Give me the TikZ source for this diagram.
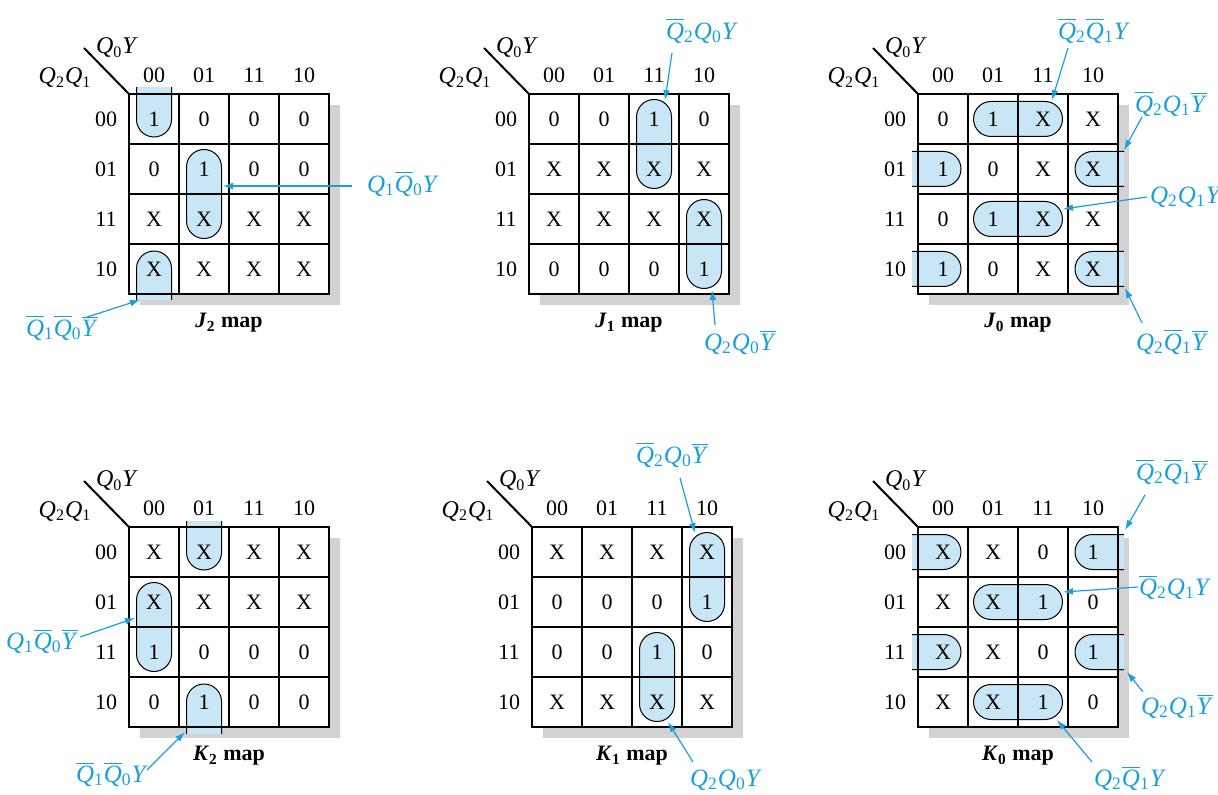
\documentclass[tikz,border=0pt]{standalone}
\usepackage{fontspec}
\setmainfont{Liberation Serif}
\usetikzlibrary{arrows.meta}
\definecolor{termblue}{RGB}{24,160,222}
\definecolor{loopblue}{RGB}{200,230,246}
\definecolor{shadowgray}{RGB}{210,210,210}
\def\qq#1{\textit{Q}\textsubscript{#1}}
\def\qb#1{$\overline{\mbox{\textit{Q}}}$\textsubscript{#1}}
\def\yy{\textit{Y}}
\def\yb{$\overline{\mbox{\textit{Y}}}$}
\tikzset{
  cell/.style={inner sep=1pt, font=\fontsize{11}{13}\selectfont},
  varname/.style={inner sep=1pt, font=\fontsize{12}{14}\selectfont},
  maptitle/.style={inner sep=1pt, font=\fontsize{11}{13}\selectfont\bfseries},
  term/.style={inner sep=1pt, text=termblue, font=\fontsize{12.5}{14}\selectfont},
  cellline/.style={line width=0.55pt},
  mapline/.style={line width=1.4pt},
  slashline/.style={line width=1pt},
  loop/.style={draw=black, line width=0.5pt, fill=loopblue, rounded corners=8.75pt},
  pointer/.style={draw=termblue, line width=0.6pt, -{Latex[length=5pt,width=3.4pt]}}
}
% loops, in coordinates of one map (top left corner at 0,0)
\def\vloop#1#2{\filldraw[loop] ({50*#1+7.5},{50*#2+5.5}) rectangle ({50*#1+42.5},{50*#2+94.5});}
\def\hloop#1#2{\filldraw[loop] ({50*#1+5.5},{50*#2+7.5}) rectangle ({50*#1+94.5},{50*#2+42.5});}
\def\wrapT#1{\begin{scope}\clip ({50*#1},-6) rectangle ({50*#1+50},50);
  \filldraw[loop] ({50*#1+7.5},-60) rectangle ({50*#1+42.5},43);\end{scope}}
\def\wrapB#1{\begin{scope}\clip ({50*#1},150) rectangle ({50*#1+50},206);
  \filldraw[loop] ({50*#1+7.5},157) rectangle ({50*#1+42.5},260);\end{scope}}
\def\wrapL#1{\begin{scope}\clip (-6,{50*#1}) rectangle (50,{50*#1+50});
  \filldraw[loop] (-60,{50*#1+7.5}) rectangle (43,{50*#1+42.5});\end{scope}}
\def\wrapR#1{\begin{scope}\clip (150,{50*#1}) rectangle (206,{50*#1+50});
  \filldraw[loop] (157,{50*#1+7.5}) rectangle (260,{50*#1+42.5});\end{scope}}
% one map: (corner) name entries loops title
\def\kmap(#1,#2)#3#4#5#6{%
  \begin{scope}[shift={(#1,#2)}]
    \fill[shadowgray] (11,11) rectangle (211,211);
    \fill[white] (0,0) rectangle (200,200);
    #5
    \foreach \t in {50,100,150}{
      \draw[cellline] (\t,0) -- (\t,200);
      \draw[cellline] (0,\t) -- (200,\t);
    }
    \draw[mapline] (0,0) rectangle (200,200);
    \coordinate (#3-corner) at (0,0);
    \coordinate (#3-end) at (-45,-46);
    \draw[slashline] (#3-end) -- (#3-corner);
    \node[varname] (#3-colvar) at (-12,-46) {\qq0\yy};
    \node[varname] (#3-rowvar) at (-64,-16) {\qq2\qq1};
    \foreach \h [count=\i from 0] in {00,01,11,10}{
      \node[cell] (#3-c\i) at ({50*\i+25},-19) {\h};
      \node[cell] (#3-r\i) at (-23,{50*\i+25}) {\h};
    }
    \foreach \v [count=\k from 0] in {#4}{
      \pgfmathtruncatemacro\ci{mod(\k,4)}
      \pgfmathtruncatemacro\rj{\k/4}
      \node[cell] (#3-\k) at ({50*\ci+25},{50*\rj+25}) {\v};
    }
    \node[maptitle] (#3-title) at (100,229) {#6};
  \end{scope}}
% term label with its pointer: (name)(label)(start)(tip){text}
\def\term(#1)(#2)(#3)(#4)#5{%
  \node[term] (#1) at (#2) {#5};
  \coordinate (#1-s) at (#3);
  \coordinate (#1-e) at (#4);
  \draw[pointer] (#1-s) -- (#1-e);}

\begin{document}
\begin{tikzpicture}[x=0.5pt, y=-0.5pt]
  \useasboundingbox (0,0) rectangle (1218,795);

  %%%%% J maps %%%%%
  \kmap(129,94){jtwo}{1,0,0,0, 0,1,0,0, X,X,X,X, X,X,X,X}
    {\vloop{1}{1} \wrapT{0} \wrapB{0}}
    {\textit{J}\textsubscript{2} map}
  \kmap(529,94){jone}{0,0,1,0, X,X,X,X, X,X,X,X, 0,0,0,1}
    {\vloop{2}{0} \vloop{3}{2}}
    {\textit{J}\textsubscript{1} map}
  \kmap(918,94){jzero}{0,1,X,X, 1,0,X,X, 0,1,X,X, 1,0,X,X}
    {\hloop{1}{0} \hloop{1}{2} \wrapL{1} \wrapL{3} \wrapR{1} \wrapR{3}}
    {\textit{J}\textsubscript{0} map}

  %%%%% K maps %%%%%
  \kmap(129,527){ktwo}{X,X,X,X, X,X,X,X, 1,0,0,0, 0,1,0,0}
    {\wrapT{1} \wrapB{1} \vloop{0}{1}}
    {\textit{K}\textsubscript{2} map}
  \kmap(532,527){kone}{X,X,X,X, 0,0,0,1, 0,0,1,0, X,X,X,X}
    {\vloop{3}{0} \vloop{2}{2}}
    {\textit{K}\textsubscript{1} map}
  \kmap(918,527){kzero}{X,X,0,1, X,X,1,0, X,X,0,1, X,X,1,0}
    {\wrapL{0} \wrapL{2} \wrapR{0} \wrapR{2} \hloop{1}{1} \hloop{1}{3}}
    {\textit{K}\textsubscript{0} map}

  %%%%% terms %%%%%
  \term(jtwoa)(403,184)(352,186)(223,186){\qq1\qb0\yy}
  \term(jtwob)(62,328)(84,318)(140,300){\qb1\qb0\yb}
  \term(jonea)(702,31)(672,53)(665,100){\qb2\qq0\yy}
  \term(joneb)(740,342)(715,325)(712,290){\qq2\qq0\yb}
  \term(jzeroa)(1094,31)(1068,48)(1052,100){\qb2\qb1\yy}
  \term(jzerob)(1171,104)(1142,117)(1124,150){\qb2\qq1\yb}
  \term(jzeroc)(1186,197)(1147,197)(1063,209){\qq2\qq1\yy}
  \term(jzerod)(1172,342)(1142,323)(1125,288){\qq2\qb1\yb}
  \term(ktwoa)(42,641)(80,637)(135,618){\qq1\qb0\yb}
  \term(ktwob)(112,774)(147,770)(185,732){\qb1\qb0\yy}
  \term(konea)(672,455)(680,478)(695,533){\qb2\qq0\yb}
  \term(koneb)(726,780)(693,762)(668,722){\qq2\qq0\yy}
  \term(kzeroa)(1172,472)(1145,495)(1125,530){\qb2\qb1\yb}
  \term(kzerob)(1175,587)(1138,587)(1063,592){\qb2\qq1\yy}
  \term(kzeroc)(1177,706)(1143,692)(1127,672){\qq2\qq1\yb}
  \term(kzerod)(1130,778)(1092,762)(1057,720){\qq2\qb1\yy}
\end{tikzpicture}
\end{document}
